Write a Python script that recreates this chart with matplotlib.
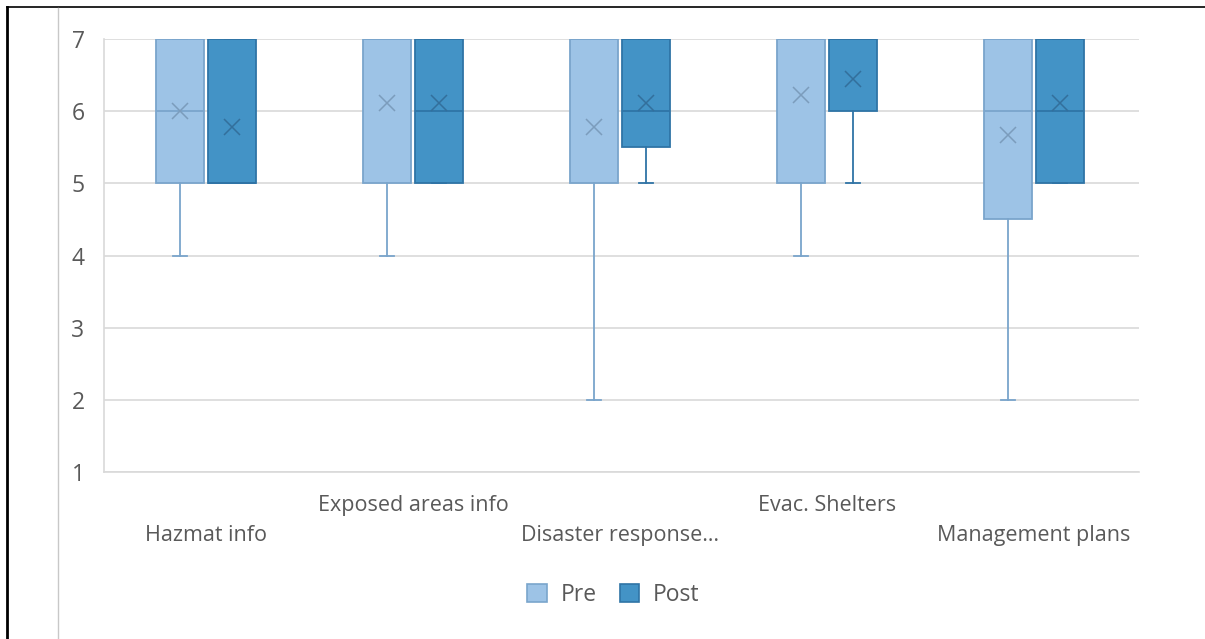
import matplotlib
matplotlib.use("Agg")
import matplotlib.pyplot as plt
from matplotlib.patches import Patch
from matplotlib.lines import Line2D

# survey items (x categories)
categories = ["Hazmat info", "Exposed areas info", "Disaster response…",
              "Evac. Shelters", "Management plans"]
series = ["Pre", "Post"]

# box statistics (Likert 1-7)
pre_whislo = [4, 4, 2, 4, 2]
pre_q1 = [5, 5, 5, 5, 4.5]
pre_med = [6, 7, 7, 7, 6]
pre_q3 = [7, 7, 7, 7, 7]
pre_whishi = [7, 7, 7, 7, 7]
pre_mean = [6.0, 6.11, 5.78, 6.22, 5.67]

post_whislo = [5, 5, 5, 5, 5]
post_q1 = [5, 5, 5.5, 6, 5]
post_med = [5, 6, 6, 7, 6]
post_q3 = [7, 7, 7, 7, 7]
post_whishi = [7, 7, 7, 7, 7]
post_mean = [5.78, 6.11, 6.11, 6.44, 6.11]

pre_fill, pre_edge, pre_mark = "#9dc3e6", "#7aa5cc", "#7b9cbc"
post_fill, post_edge, post_mark = "#4393c6", "#2f74a6", "#336f9c"
text_col = "#595959"
grid_col = "#d9d9d9"
font = "Open Sans"


def stats(lo, q1, med, q3, hi, mean):
    return [dict(whislo=a, q1=b, med=c, q3=d, whishi=e, mean=f, fliers=[])
            for a, b, c, d, e, f in zip(lo, q1, med, q3, hi, mean)]


fig = plt.figure(figsize=(12.05, 6.39), dpi=100)
ax = fig.add_axes([0.0863, 0.2613, 0.8589, 0.6777])

n = len(categories)
centers = list(range(n))
offset = 0.126
width = 0.232

groups = [
    (stats(pre_whislo, pre_q1, pre_med, pre_q3, pre_whishi, pre_mean), -offset,
     pre_fill, pre_edge, pre_mark),
    (stats(post_whislo, post_q1, post_med, post_q3, post_whishi, post_mean), offset,
     post_fill, post_edge, post_mark),
]
for st, off, fill, edge, mark in groups:
    ax.bxp(st, positions=[c + off for c in centers], widths=width,
           showmeans=True, patch_artist=True, showfliers=False,
           boxprops=dict(facecolor=fill, edgecolor=edge, linewidth=1.3),
           medianprops=dict(color=edge, linewidth=1.3),
           whiskerprops=dict(color=edge, linewidth=1.3),
           capprops=dict(color=edge, linewidth=1.3),
           capwidths=0.07,
           meanprops=dict(marker="x", markersize=11, markeredgecolor=mark,
                          markeredgewidth=1.1))

ax.set_xlim(-0.493, n - 0.493)
ax.set_ylim(1, 7)
ax.set_yticks(range(1, 8))
ax.yaxis.grid(True, color=grid_col, linewidth=1.2)
ax.set_axisbelow(True)
for s in ["top", "right"]:
    ax.spines[s].set_visible(False)
ax.spines["left"].set_color(grid_col)
ax.spines["bottom"].set_color(grid_col)
ax.spines["left"].set_linewidth(1.2)
ax.spines["bottom"].set_linewidth(1.2)
ax.tick_params(axis="both", length=0)
ax.tick_params(axis="y", labelsize=16.5, labelcolor=text_col, pad=14)
for lab in ax.get_yticklabels():
    lab.set_family(font)

# staggered category labels like Excel
ax.set_xticks(centers)
ax.set_xticklabels([])
for i, name in enumerate(categories):
    y = -0.077 if i % 2 == 1 else -0.146
    ax.text(i, y, name, transform=ax.get_xaxis_transform(), ha="center",
            va="center", fontsize=15.5, color=text_col, family=font)

handles = [Patch(facecolor=pre_fill, edgecolor=pre_edge, linewidth=1.2),
           Patch(facecolor=post_fill, edgecolor=post_edge, linewidth=1.2)]
leg = fig.legend(handles, series, loc="center", bbox_to_anchor=(0.509, 0.069),
                 ncol=2, frameon=False, handlelength=0.85, handleheight=0.85,
                 columnspacing=1.0, handletextpad=0.6,
                 prop=dict(family=font, size=16.5))
for t in leg.get_texts():
    t.set_color(text_col)

# outer frame pieces seen in the screenshot
fig.add_artist(Line2D([7 / 1205, 7 / 1205], [0, 1 - 7 / 639], color="black",
                      linewidth=2.0, transform=fig.transFigure))
fig.add_artist(Line2D([7 / 1205, 1], [1 - 7 / 639, 1 - 7 / 639], color="black",
                      linewidth=1.2, transform=fig.transFigure))
fig.add_artist(Line2D([58 / 1205, 58 / 1205], [0, 1 - 8 / 639], color="#c8c8c8",
                      linewidth=1.0, transform=fig.transFigure))

fig.savefig("out.png", dpi=100)
